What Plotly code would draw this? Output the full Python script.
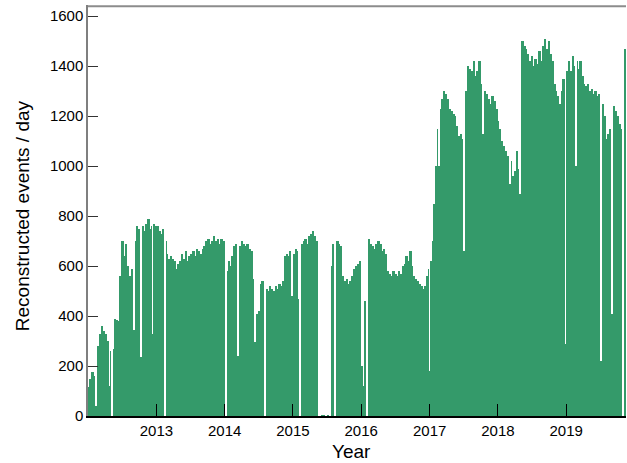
import numpy as np
import plotly.graph_objects as go

bin_start = "2012-01-01"
bin_days = 10

events_2012 = [115, 150, 175, 160, 40, 280, 330, 360, 340, 330, 300, 120, 260, 270, 390,
               385, 380, 560, 700, 640, 690, 600, 560, 590, 540, 700, 760, 750, 770, 760,
               740, 770, 790, 750, 760, 770, 760]
events_2013 = [760, 740, 730, 750, 700, 650, 630, 640, 630, 620, 590, 610, 620, 650, 630,
               660, 620, 640, 650, 660, 640, 670, 660, 650, 670, 680, 700, 710, 690, 700,
               720, 700, 710, 690, 710, 700, 700]
events_2014 = [580, 620, 600, 640, 680, 690, 670, 680, 700, 690, 680, 690, 670, 660, 550,
               520, 410, 420, 530, 540, 540, 510, 500, 520, 510, 500, 520, 510, 530, 520,
               540, 640, 650, 640, 660, 630]
events_2015 = [650, 670, 660, 650, 690, 700, 710, 690, 720, 730, 740, 720, 700, 0, 0,
               4, 4, 0, 4, 0, 600, 690, 680, 700, 690, 680, 560, 540, 550, 530,
               540, 560, 590, 600, 610, 620, 200]
events_2016 = [120, 460, 700, 710, 690, 680, 670, 690, 700, 690, 660, 670, 650, 580, 570,
               560, 580, 570, 560, 580, 570, 600, 610, 640, 620, 660, 600, 560, 550, 540,
               530, 520, 510, 520, 560, 590]
events_2017 = [620, 700, 850, 1000, 1150, 1230, 1270, 1300, 1290, 1270, 1230, 1220, 1210, 1200, 1160,
               1120, 1130, 1110, 1120, 1300, 1400, 1390, 1380, 1420, 1360, 1380, 1420, 1330, 1280, 1300,
               1290, 1270, 1250, 1280, 1260, 1230, 1180]
events_2018 = [1150, 1100, 1080, 1060, 1040, 1000, 1020, 960, 980, 1060, 990, 1040, 1500, 1480, 1470,
               1450, 1420, 1440, 1400, 1430, 1410, 1460, 1420, 1480, 1510, 1470, 1500, 1450, 1420, 1330,
               1300, 1280, 1250, 1300, 1350, 290, 1380]
events_2019 = [1420, 1380, 1440, 1400, 1420, 1390, 1420, 1360, 1330, 1320, 1330, 1300, 1310, 1290, 1300,
               1280, 1290, 1260, 1250, 1200, 1110, 1130, 1150, 1180, 1240, 1220, 1200, 1170, 1150, 670,
               1470]

# single days with very few events (the white lines)
dip_dates = ["2012-05-10", "2012-09-04", "2012-10-10", "2012-12-11", "2013-02-15",
             "2014-01-06", "2014-03-11", "2014-06-14", "2014-08-04", "2014-12-28",
             "2015-02-01", "2015-02-10", "2015-08-15", "2016-02-02", "2016-12-31",
             "2017-02-21", "2017-07-04", "2017-10-15", "2018-03-08", "2018-04-29",
             "2019-02-23", "2019-07-06", "2019-09-03", "2019-11-02"]
dip_values = [0, 344, 237, 330, 0,
              0, 240, 295, 0, 480,
              470, 0, 0, 0, 180,
              1000, 660, 1130, 930, 890,
              1000, 220, 410, 0]

year_ticks = [2013, 2014, 2015, 2016, 2017, 2018, 2019]

events = (events_2012 + events_2013 + events_2014 + events_2015 +
          events_2016 + events_2017 + events_2018 + events_2019)
day_ms = 86400000
centers = (np.datetime64(bin_start) + np.arange(len(events)) * bin_days
           + np.timedelta64(bin_days // 2, "D"))

ymax = 1644
green = "#349a6a"
font = "Liberation Sans, Arial, sans-serif"

fig = go.Figure()
fig.add_trace(go.Bar(x=centers, y=events, width=bin_days * day_ms,
                     marker=dict(color=green, line=dict(width=0))))
fig.add_trace(go.Bar(x=dip_dates, y=[ymax - v for v in dip_values], base=dip_values,
                     width=5 * day_ms, marker=dict(color="white", line=dict(width=0))))

fig.update_layout(
    width=627, height=463,
    margin=dict(l=88, r=1, t=5, b=47, autoexpand=False),
    barmode="overlay", bargap=0, showlegend=False,
    plot_bgcolor="white", paper_bgcolor="white",
    font=dict(family=font, size=15, color="black"),
    # grey frame line along the top of the plot area
    shapes=[dict(type="line", xref="paper", yref="paper", x0=0, x1=1, y0=0.997, y1=0.997,
                 layer="above", line=dict(color="#8c8c8c", width=2))],
    annotations=[
        dict(text="Year", xref="paper", yref="paper", x=0.49, y=-0.087,
             xanchor="center", yanchor="middle", showarrow=False, font=dict(size=19)),
        dict(text="Reconstructed events / day", xref="paper", yref="paper", x=-0.122, y=0.487,
             xanchor="center", yanchor="middle", textangle=-90, showarrow=False,
             font=dict(size=19)),
    ],
)
fig.update_xaxes(
    type="date", range=["2012-01-01", "2019-11-17"], automargin=False,
    tickvals=[f"{y}-01-01" for y in year_ticks], ticktext=[str(y) for y in year_ticks],
    ticks="inside", ticklen=12, tickcolor="black", tickwidth=1,
    showline=True, linecolor="black", linewidth=1.5, showgrid=False, zeroline=False,
)
fig.update_yaxes(
    range=[0, ymax], tickvals=list(range(0, 1601, 200)), automargin=False,
    ticks="inside", ticklen=10, tickcolor="#333333", tickwidth=1,
    showline=True, linecolor="#7f7f7f", linewidth=1.5, showgrid=False, zeroline=False,
)

# the page body has a default 8px margin; drop it so the figure fills the window
fig.write_html("out.html", config={"displayModeBar": False},
               post_script="document.body.style.margin='0';")
